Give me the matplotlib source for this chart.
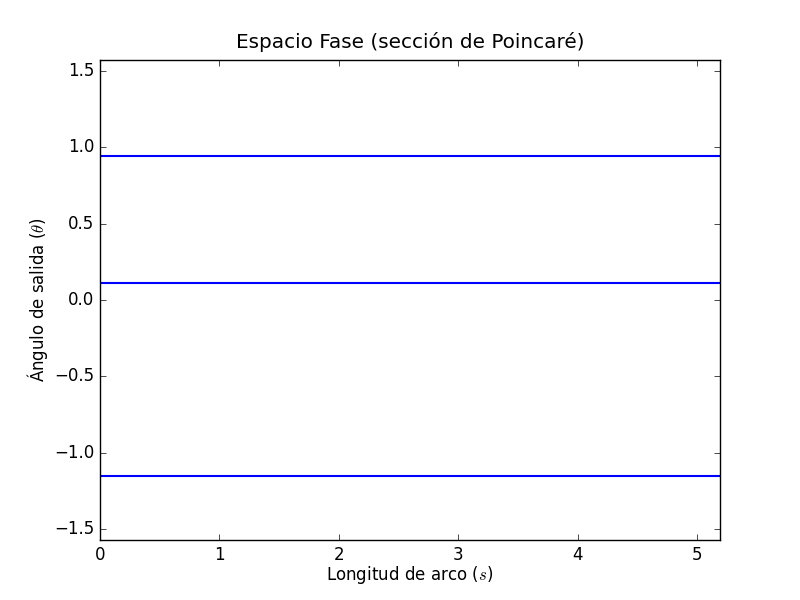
import numpy as np
import matplotlib
matplotlib.use('Agg')
import matplotlib.pyplot as plt

plt.style.use('classic')

# arc length range and the constant exit angles seen in the section
s_range = [0.0, 5.19]
theta_levels = [0.941, 0.111, -1.150]

fig = plt.figure(figsize=(8, 6), dpi=100)
ax = fig.add_subplot(111)

for th in theta_levels:
    ax.plot(s_range, [th, th], 'b-', lw=1.5)

ax.set_xlim(s_range[0], s_range[1])
ax.set_ylim(-np.pi / 2, np.pi / 2)
ax.set_title(u'Espacio Fase (sección de Poincaré)', pad=9)
ax.set_xlabel(r'Longitud de arco ($s$)', labelpad=0.5)
ax.set_ylabel(u'Ángulo de salida ($\\theta$)', labelpad=3)

fig.savefig('out.png', dpi=100, facecolor='white')
